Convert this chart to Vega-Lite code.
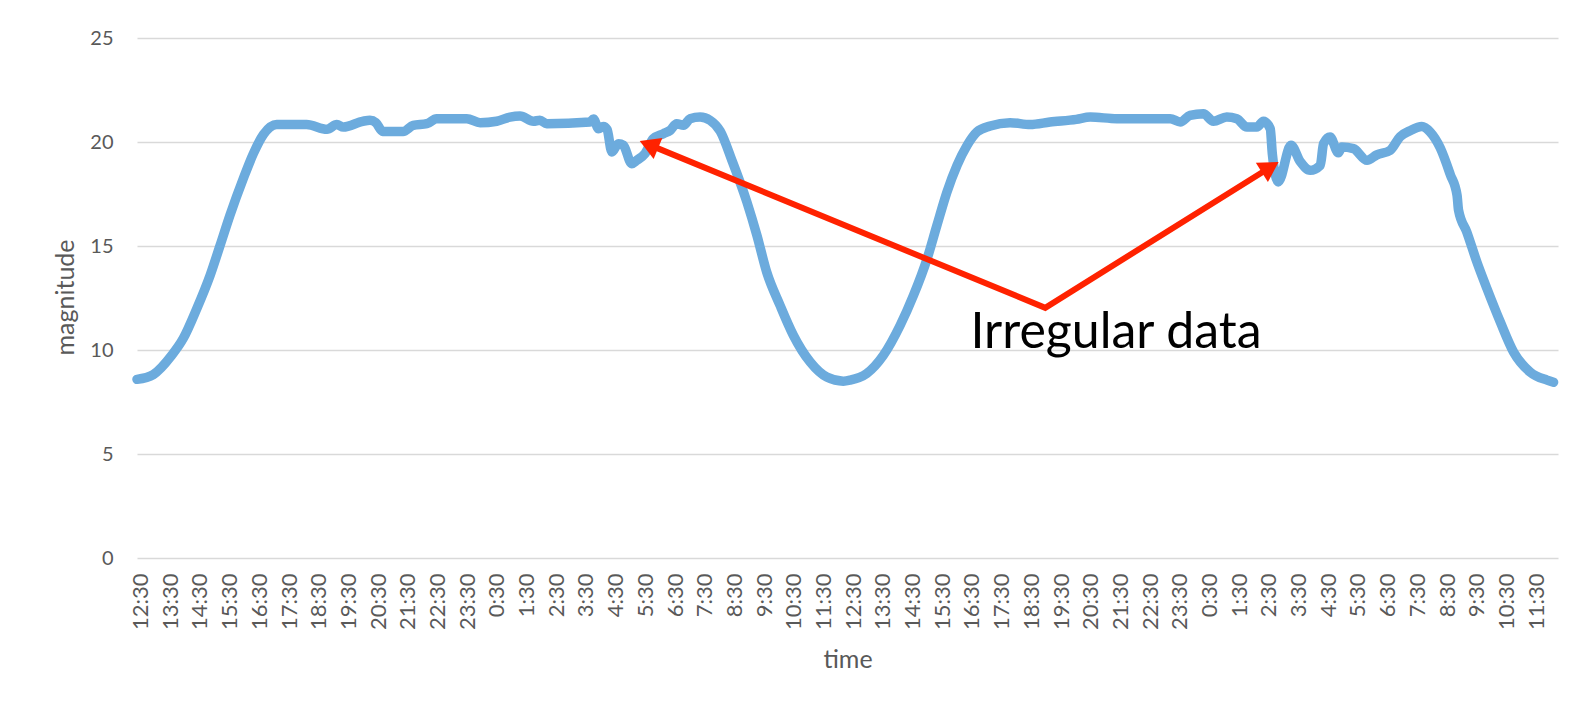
{
  "$schema": "https://vega.github.io/schema/vega-lite/v6.json",
  "autosize": "none",
  "width": 1421,
  "height": 520,
  "padding": {"left": 137, "top": 38, "right": 22, "bottom": 147},
  "background": "white",
  "config": {
    "view": {"stroke": null},
    "font": "Lato",
    "axis": {"labelFont": "Lato", "titleFont": "Lato", "labelColor": "#595959", "titleColor": "#595959", "titleFontWeight": "normal"}
  },
  "datasets": {
    "series": [
      {"t": 0.00, "v": 8.59}, {"t": 0.55, "v": 8.82}, {"t": 1.17, "v": 9.74}, {"t": 1.56, "v": 10.55},
      {"t": 2.02, "v": 11.99}, {"t": 2.47, "v": 13.59}, {"t": 2.80, "v": 15.00}, {"t": 3.14, "v": 16.48},
      {"t": 3.59, "v": 18.24}, {"t": 3.93, "v": 19.44}, {"t": 4.27, "v": 20.36}, {"t": 4.72, "v": 20.84},
      {"t": 5.73, "v": 20.84}, {"t": 6.42, "v": 20.61}, {"t": 6.75, "v": 20.84}, {"t": 6.97, "v": 20.72},
      {"t": 7.64, "v": 21.00}, {"t": 7.87, "v": 21.04}, {"t": 8.07, "v": 20.93}, {"t": 8.30, "v": 20.51},
      {"t": 8.99, "v": 20.51}, {"t": 9.33, "v": 20.80}, {"t": 9.79, "v": 20.88}, {"t": 10.12, "v": 21.12},
      {"t": 11.14, "v": 21.12}, {"t": 11.59, "v": 20.93}, {"t": 12.15, "v": 21.00}, {"t": 12.60, "v": 21.20},
      {"t": 12.94, "v": 21.25}, {"t": 13.39, "v": 21.00}, {"t": 13.61, "v": 21.04}, {"t": 13.84, "v": 20.88},
      {"t": 15.30, "v": 20.96}, {"t": 15.42, "v": 21.10}, {"t": 15.59, "v": 20.64}, {"t": 15.75, "v": 20.75},
      {"t": 15.88, "v": 20.60}, {"t": 16.04, "v": 19.52}, {"t": 16.26, "v": 19.92}, {"t": 16.43, "v": 19.84},
      {"t": 16.71, "v": 18.96}, {"t": 16.88, "v": 19.12}, {"t": 17.16, "v": 19.44}, {"t": 17.44, "v": 20.16},
      {"t": 17.78, "v": 20.40}, {"t": 18.01, "v": 20.56}, {"t": 18.23, "v": 20.88}, {"t": 18.46, "v": 20.80},
      {"t": 18.68, "v": 21.12}, {"t": 19.02, "v": 21.20}, {"t": 19.36, "v": 21.04}, {"t": 19.70, "v": 20.52},
      {"t": 20.10, "v": 19.10}, {"t": 20.60, "v": 17.12}, {"t": 20.94, "v": 15.51}, {"t": 21.27, "v": 13.75},
      {"t": 21.72, "v": 12.15}, {"t": 22.17, "v": 10.71}, {"t": 22.74, "v": 9.42}, {"t": 23.30, "v": 8.70},
      {"t": 23.86, "v": 8.50}, {"t": 24.09, "v": 8.55}, {"t": 24.65, "v": 8.87}, {"t": 25.21, "v": 9.74},
      {"t": 25.78, "v": 11.19}, {"t": 26.23, "v": 12.63}, {"t": 26.69, "v": 14.39}, {"t": 27.02, "v": 15.99},
      {"t": 27.36, "v": 17.60}, {"t": 27.70, "v": 18.88}, {"t": 28.04, "v": 19.84}, {"t": 28.37, "v": 20.48},
      {"t": 28.82, "v": 20.77}, {"t": 29.49, "v": 20.93}, {"t": 30.17, "v": 20.84}, {"t": 30.84, "v": 20.96},
      {"t": 31.73, "v": 21.09}, {"t": 32.20, "v": 21.20}, {"t": 33.10, "v": 21.12}, {"t": 34.90, "v": 21.12},
      {"t": 35.24, "v": 20.96}, {"t": 35.57, "v": 21.28}, {"t": 36.02, "v": 21.36}, {"t": 36.36, "v": 21.00},
      {"t": 36.81, "v": 21.20}, {"t": 37.15, "v": 21.12}, {"t": 37.49, "v": 20.72}, {"t": 37.83, "v": 20.72},
      {"t": 38.05, "v": 21.00}, {"t": 38.28, "v": 20.64}, {"t": 38.35, "v": 19.44}, {"t": 38.55, "v": 18.08},
      {"t": 38.98, "v": 19.84}, {"t": 39.30, "v": 19.04}, {"t": 39.63, "v": 18.64}, {"t": 39.97, "v": 18.88},
      {"t": 40.08, "v": 19.92}, {"t": 40.30, "v": 20.24}, {"t": 40.58, "v": 19.48}, {"t": 40.70, "v": 19.76},
      {"t": 41.09, "v": 19.68}, {"t": 41.55, "v": 19.12}, {"t": 41.88, "v": 19.38}, {"t": 42.33, "v": 19.60},
      {"t": 42.67, "v": 20.26}, {"t": 43.00, "v": 20.54}, {"t": 43.40, "v": 20.74}, {"t": 43.68, "v": 20.48},
      {"t": 44.02, "v": 19.72}, {"t": 44.36, "v": 18.44}, {"t": 44.59, "v": 17.44}, {"t": 44.64, "v": 16.72},
      {"t": 44.92, "v": 15.67}, {"t": 45.26, "v": 14.23}, {"t": 45.60, "v": 12.95}, {"t": 46.05, "v": 11.35},
      {"t": 46.50, "v": 9.90}, {"t": 47.06, "v": 8.94}, {"t": 47.63, "v": 8.55}, {"t": 47.85, "v": 8.45}
    ],
    "arrow": [
      {"o": 0, "t": 17.43, "v": 19.79},
      {"o": 1, "t": 30.68, "v": 12.03},
      {"o": 2, "t": 38.16, "v": 18.68}
    ],
    "heads": [
      {"id": "left", "t": 17.29, "v": 19.87},
      {"id": "right", "t": 38.28, "v": 18.79}
    ],
    "note": [
      {"label": "Irregular data", "t": 33.07, "v": 10.1}
    ]
  },
  "layer": [
    {
      "data": {"name": "series"},
      "mark": {"type": "line", "color": "#6CABDD", "strokeWidth": 9.5, "strokeCap": "round", "strokeJoin": "round", "interpolate": "monotone"},
      "encoding": {
        "x": {
          "field": "t", "type": "quantitative",
          "scale": {"domain": [0, 48], "nice": false, "zero": false},
          "axis": {
            "title": "time", "titleFontSize": 25, "titleBaseline": "middle", "titleY": 101,
            "values": [0.12, 1.123, 2.126, 3.129, 4.132, 5.135, 6.138, 7.141, 8.144, 9.147, 10.15, 11.153, 12.156, 13.159, 14.162, 15.165, 16.168, 17.171, 18.174, 19.177, 20.18, 21.183, 22.186, 23.189, 24.192, 25.195, 26.198, 27.201, 28.204, 29.207, 30.21, 31.213, 32.216, 33.219, 34.222, 35.225, 36.228, 37.231, 38.234, 39.237, 40.24, 41.243, 42.246, 43.249, 44.252, 45.255, 46.258, 47.261],
            "tickCount": 100,
            "labelExpr": "floor((datum.value + 12.5) % 24) + ':30'",
            "labelAngle": 270, "labelFontSize": 22, "labelPadding": 15,
            "labelOverlap": false, "labelFlush": false,
            "grid": false, "domain": false, "ticks": false
          }
        },
        "y": {
          "field": "v", "type": "quantitative",
          "scale": {"domain": [0, 25], "nice": false},
          "axis": {
            "title": "magnitude", "titleFontSize": 25, "titleBaseline": "middle", "titleX": -72, "titleY": 259, "titleAngle": 270,
            "values": [0, 5, 10, 15, 20, 25], "labelFontSize": 20, "labelPadding": 24,
            "grid": true, "gridColor": "#d9d9d9", "gridWidth": 1.5,
            "domain": false, "ticks": false
          }
        }
      }
    },
    {
      "data": {"name": "arrow"},
      "mark": {"type": "line", "color": "#FF2200", "strokeWidth": 6, "strokeJoin": "miter", "strokeCap": "butt"},
      "encoding": {
        "x": {"field": "t", "type": "quantitative"},
        "y": {"field": "v", "type": "quantitative"},
        "order": {"field": "o", "type": "quantitative"}
      }
    },
    {
      "data": {"name": "heads"},
      "transform": [{"filter": "datum.id == 'left'"}],
      "mark": {"type": "point", "shape": "triangle-up", "filled": true, "color": "#FF2200", "opacity": 1, "size": 520, "angle": 292.4},
      "encoding": {
        "x": {"field": "t", "type": "quantitative"},
        "y": {"field": "v", "type": "quantitative"}
      }
    },
    {
      "data": {"name": "heads"},
      "transform": [{"filter": "datum.id == 'right'"}],
      "mark": {"type": "point", "shape": "triangle-up", "filled": true, "color": "#FF2200", "opacity": 1, "size": 520, "angle": 58},
      "encoding": {
        "x": {"field": "t", "type": "quantitative"},
        "y": {"field": "v", "type": "quantitative"}
      }
    },
    {
      "data": {"name": "note"},
      "mark": {"type": "text", "font": "Lato", "fontSize": 50, "color": "#000000", "align": "center", "baseline": "alphabetic"},
      "encoding": {
        "x": {"field": "t", "type": "quantitative"},
        "y": {"field": "v", "type": "quantitative"},
        "text": {"field": "label"}
      }
    }
  ]
}
